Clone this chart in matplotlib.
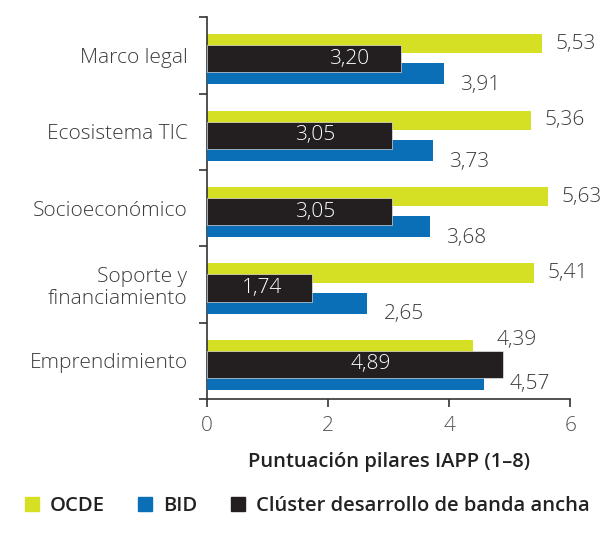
import numpy as np
import matplotlib
matplotlib.use('Agg')
import matplotlib.pyplot as plt
from matplotlib.lines import Line2D

# IAPP pillar scores
pilares = ['Marco legal', 'Ecosistema TIC', 'Socioeconómico',
           'Soporte y\nfinanciamiento', 'Emprendimiento']
ocde = [5.53, 5.36, 5.63, 5.41, 4.39]
bid = [3.91, 3.73, 3.68, 2.65, 4.57]
cluster = [3.20, 3.05, 3.05, 1.74, 4.89]

# where the white labels sit inside the black bars
pos_cluster = [2.35, 1.79, 1.79, 0.91, 2.70]

c_ocde = '#d5df23'
c_bid = '#0b6fb8'
c_clu = '#231f20'
c_txt = '#3c3c3c'

plt.rcParams['font.family'] = ['Open Sans', 'DejaVu Sans']

fig = plt.figure(figsize=(6.13, 5.35), dpi=100)
ax = fig.add_axes([0.3377, 0.254, 0.5925, 0.714])

y = np.arange(len(pilares))
ax.barh(y - 0.151, ocde, height=0.25, color=c_ocde, zorder=2)
ax.barh(y + 0.243, bid, height=0.276, color=c_bid, zorder=3)
ax.barh(y + 0.046, cluster, height=0.355, color=c_clu, zorder=4,
        edgecolor='white', linewidth=0.4)

fmt = lambda v: ('%.2f' % v).replace('.', ',')
fs = 15
w = 'light'
for i in range(len(pilares)):
    if cluster[i] > ocde[i]:
        ax.text(ocde[i] + 0.4, i - 0.28, fmt(ocde[i]), va='center', ha='left',
                fontsize=fs, color=c_txt, fontweight=w)
        ax.text(bid[i] + 0.42, i + 0.3, fmt(bid[i]), va='center', ha='left',
                fontsize=fs, color=c_txt, fontweight=w)
    else:
        ax.text(ocde[i] + 0.22, i - 0.151, fmt(ocde[i]), va='center', ha='left',
                fontsize=fs, color=c_txt, fontweight=w)
        ax.text(bid[i] + 0.27, i + 0.39, fmt(bid[i]), va='center', ha='left',
                fontsize=fs, color=c_txt, fontweight=w)
    ax.text(pos_cluster[i], i + 0.046, fmt(cluster[i]), va='center', ha='center',
            fontsize=fs, color='white', fontweight=w, zorder=5)

ax.set_xlim(0, 6)
ax.set_ylim(4.5, -0.5)
ax.set_xticks([0, 2, 4, 6])
ax.set_xticklabels(['0', '2', '4', '6'])
ax.set_yticks(y)
ax.set_yticklabels(pilares, fontsize=fs, color=c_txt, fontweight=w,
                   linespacing=1.15)
ax.set_yticks(np.arange(-0.5, 5, 1), minor=True)
ax.tick_params(axis='y', which='major', length=0, pad=14)
ax.tick_params(axis='y', which='minor', length=6, width=1.2, color='#333333')
ax.tick_params(axis='x', length=6, width=1.2, color='#333333', pad=6,
               labelsize=fs, labelcolor='#555555')
for t in ax.get_xticklabels():
    t.set_fontweight(w)

for s in ['top', 'right']:
    ax.spines[s].set_visible(False)
for s in ['left', 'bottom']:
    ax.spines[s].set_color('#333333')
    ax.spines[s].set_linewidth(1.2)

ax.set_xlabel('Puntuación pilares IAPP (1–8)', fontsize=14.5, color='#222222',
              fontweight='semibold', labelpad=12)

handles = [Line2D([], [], marker='s', linestyle='none', markersize=10,
                  color=c) for c in (c_ocde, c_bid, c_clu)]
fig.legend(handles, ['OCDE', 'BID', 'Clúster desarrollo de banda ancha'],
           loc='center', bbox_to_anchor=(0.5, 0.055), ncol=3, frameon=False,
           handlelength=0.8, handletextpad=0.5, columnspacing=1.6,
           prop={'size': 14.5, 'weight': 'semibold'}, labelcolor='#222222')

fig.savefig('out.png', dpi=100)
